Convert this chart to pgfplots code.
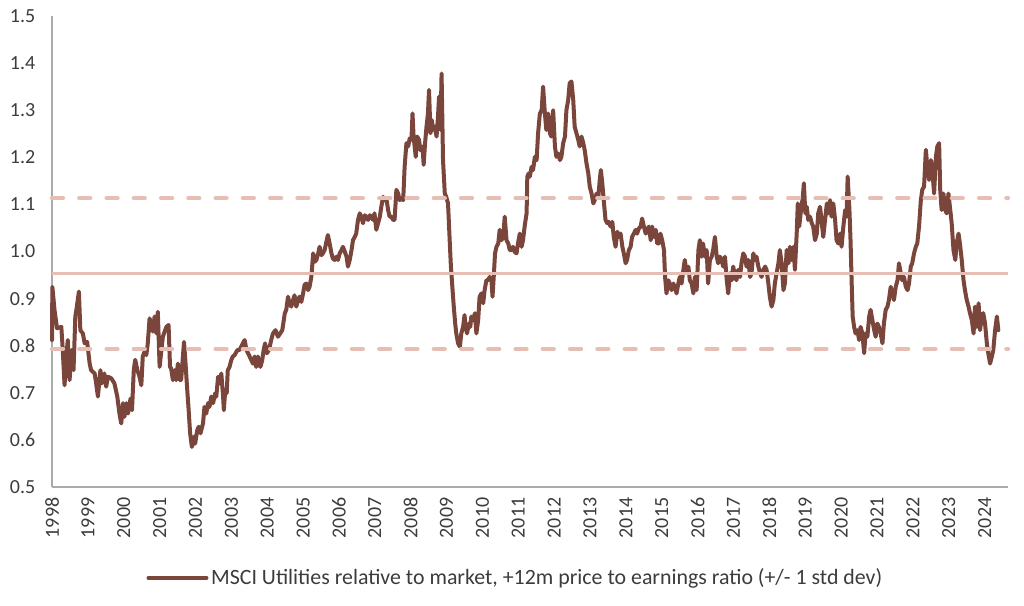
\documentclass[border=0pt]{standalone}
\usepackage{pgfplots}
\pgfplotsset{compat=1.18}
\usepackage{fontspec}
\setmainfont{Carlito}
\definecolor{brownline}{RGB}{122,69,58}
\definecolor{pinkline}{RGB}{230,190,180}
\definecolor{axisgray}{RGB}{170,170,170}
\definecolor{textgray}{RGB}{60,60,60}
\begin{document}
\begin{tikzpicture}
\useasboundingbox (-39pt,-89.25pt) rectangle (729pt,365.25pt);
\begin{axis}[
  scale only axis,
  width=717pt, height=353.25pt,
  xmin=1998, xmax=2024.65,
  ymin=0.5, ymax=1.5,
  axis x line=bottom, axis y line=left,
  axis line style={draw=axisgray, line width=0.9pt, -},
  major tick length=0pt,
  xtick={1998,1999,...,2024},
  ytick={0.5,0.6,...,1.5},
  /pgf/number format/assume math mode=true,
  x tick label style={/pgf/number format/1000 sep={}, rotate=90, anchor=east, xshift=-4.5pt, font=\fontsize{15}{17}\selectfont, text=textgray},
  y tick label style={/pgf/number format/.cd, fixed, fixed zerofill, precision=1, /tikz/.cd, xshift=-9pt, font=\fontsize{15}{17}\selectfont, text=textgray},
  legend style={at={(0.485,-0.193)}, anchor=center, draw=none, fill=none, font=\fontsize{16.4}{18}\selectfont, text=textgray},
  legend image code/.code={\draw[#1, line width=3pt] (0pt,0pt) -- (43.5pt,0pt);},
  clip=false,
]
\addplot[brownline, line width=3pt, line join=round, line cap=round] table {
1998.00 0.812
1998.01 0.925
1998.07 0.876
1998.14 0.837
1998.26 0.840
1998.30 0.791
1998.35 0.716
1998.40 0.777
1998.44 0.812
1998.49 0.727
1998.55 0.791
1998.60 0.748
1998.65 0.862
1998.68 0.876
1998.75 0.915
1998.79 0.833
1998.86 0.826
1998.91 0.805
1998.98 0.808
1999.05 0.762
1999.09 0.748
1999.19 0.741
1999.23 0.720
1999.28 0.692
1999.35 0.748
1999.39 0.720
1999.46 0.741
1999.51 0.713
1999.56 0.734
1999.65 0.731
1999.74 0.720
1999.82 0.692
1999.88 0.656
1999.93 0.635
1999.98 0.678
2000.02 0.649
2000.07 0.678
2000.12 0.656
2000.19 0.688
2000.23 0.663
2000.28 0.748
2000.32 0.770
2000.38 0.748
2000.44 0.734
2000.49 0.716
2000.53 0.777
2000.58 0.787
2000.63 0.780
2000.67 0.805
2000.72 0.858
2000.77 0.847
2000.81 0.830
2000.86 0.862
2000.91 0.826
2000.95 0.872
2001.00 0.755
2001.05 0.791
2001.09 0.819
2001.14 0.830
2001.19 0.840
2001.25 0.844
2001.29 0.755
2001.32 0.752
2001.37 0.727
2001.42 0.748
2001.46 0.727
2001.51 0.762
2001.56 0.727
2001.60 0.727
2001.68 0.808
2001.71 0.777
2001.77 0.706
2001.81 0.663
2001.85 0.614
2001.90 0.585
2001.96 0.607
2001.99 0.592
2002.05 0.621
2002.09 0.628
2002.14 0.614
2002.21 0.635
2002.25 0.670
2002.30 0.656
2002.35 0.678
2002.39 0.670
2002.44 0.692
2002.49 0.678
2002.55 0.699
2002.58 0.692
2002.63 0.734
2002.67 0.720
2002.72 0.741
2002.77 0.692
2002.79 0.663
2002.83 0.706
2002.87 0.699
2002.90 0.748
2002.95 0.755
2003.00 0.770
2003.04 0.777
2003.09 0.780
2003.17 0.791
2003.23 0.791
2003.32 0.805
2003.37 0.812
2003.42 0.791
2003.51 0.777
2003.60 0.762
2003.65 0.777
2003.69 0.755
2003.74 0.777
2003.81 0.755
2003.86 0.769
2003.90 0.791
2003.94 0.805
2003.99 0.784
2004.05 0.791
2004.11 0.812
2004.16 0.826
2004.23 0.833
2004.30 0.819
2004.36 0.826
2004.42 0.833
2004.49 0.869
2004.53 0.876
2004.58 0.904
2004.62 0.890
2004.67 0.883
2004.72 0.897
2004.76 0.907
2004.81 0.883
2004.86 0.897
2004.90 0.904
2004.95 0.893
2005.00 0.911
2005.04 0.929
2005.09 0.932
2005.14 0.918
2005.18 0.925
2005.23 0.946
2005.28 0.996
2005.32 0.978
2005.37 0.982
2005.42 0.996
2005.46 1.010
2005.51 0.992
2005.55 0.996
2005.60 1.003
2005.65 1.021
2005.69 1.035
2005.74 1.017
2005.79 0.996
2005.83 0.985
2005.88 0.982
2005.93 0.989
2005.97 0.982
2006.02 0.996
2006.07 1.003
2006.11 1.010
2006.16 1.000
2006.21 0.989
2006.25 0.968
2006.30 0.982
2006.35 1.003
2006.39 1.024
2006.44 1.031
2006.48 1.038
2006.53 1.067
2006.58 1.081
2006.62 1.074
2006.67 1.060
2006.72 1.077
2006.76 1.074
2006.81 1.067
2006.86 1.077
2006.90 1.074
2006.95 1.067
2006.99 1.081
2007.04 1.046
2007.09 1.060
2007.14 1.074
2007.18 1.095
2007.23 1.116
2007.27 1.109
2007.32 1.113
2007.37 1.088
2007.41 1.074
2007.46 1.074
2007.51 1.067
2007.55 1.067
2007.60 1.131
2007.65 1.123
2007.69 1.109
2007.74 1.113
2007.79 1.109
2007.83 1.180
2007.88 1.230
2007.93 1.223
2007.97 1.240
2008.02 1.237
2008.05 1.293
2008.08 1.244
2008.14 1.201
2008.18 1.244
2008.23 1.237
2008.27 1.215
2008.33 1.223
2008.36 1.184
2008.40 1.230
2008.44 1.265
2008.48 1.293
2008.51 1.343
2008.55 1.251
2008.59 1.279
2008.62 1.258
2008.67 1.265
2008.72 1.244
2008.76 1.286
2008.79 1.329
2008.83 1.258
2008.86 1.378
2008.90 1.194
2008.95 1.123
2008.99 1.116
2009.04 1.102
2009.09 1.017
2009.12 0.968
2009.16 0.925
2009.20 0.883
2009.24 0.847
2009.27 0.826
2009.32 0.805
2009.37 0.798
2009.41 0.826
2009.46 0.840
2009.50 0.865
2009.53 0.840
2009.57 0.826
2009.62 0.847
2009.66 0.840
2009.69 0.862
2009.74 0.854
2009.79 0.869
2009.83 0.826
2009.88 0.854
2009.92 0.904
2009.97 0.911
2010.02 0.890
2010.06 0.918
2010.11 0.939
2010.16 0.939
2010.20 0.946
2010.25 0.939
2010.28 0.904
2010.32 0.954
2010.35 0.996
2010.39 1.010
2010.44 1.017
2010.48 1.046
2010.53 1.024
2010.58 1.031
2010.62 1.074
2010.67 1.024
2010.72 1.017
2010.76 1.003
2010.81 1.003
2010.85 1.010
2010.90 0.999
2010.95 0.996
2010.99 1.017
2011.04 1.038
2011.09 1.010
2011.13 1.024
2011.18 1.056
2011.23 1.081
2011.25 1.159
2011.29 1.166
2011.32 1.159
2011.37 1.180
2011.41 1.173
2011.46 1.201
2011.51 1.194
2011.55 1.251
2011.60 1.293
2011.65 1.300
2011.69 1.350
2011.74 1.293
2011.78 1.258
2011.83 1.293
2011.88 1.251
2011.92 1.244
2011.97 1.300
2012.02 1.223
2012.06 1.201
2012.11 1.208
2012.16 1.194
2012.20 1.201
2012.25 1.230
2012.30 1.244
2012.34 1.300
2012.39 1.322
2012.43 1.357
2012.48 1.361
2012.53 1.322
2012.57 1.265
2012.62 1.251
2012.67 1.237
2012.71 1.223
2012.76 1.244
2012.81 1.230
2012.85 1.215
2012.90 1.187
2012.95 1.166
2012.99 1.138
2013.04 1.123
2013.09 1.102
2013.13 1.109
2013.18 1.123
2013.23 1.116
2013.27 1.152
2013.30 1.173
2013.34 1.145
2013.38 1.109
2013.43 1.067
2013.48 1.060
2013.52 1.063
2013.57 1.053
2013.62 1.063
2013.66 1.031
2013.71 1.010
2013.76 1.042
2013.80 1.031
2013.85 1.038
2013.90 1.010
2013.94 0.996
2013.99 0.975
2014.03 0.982
2014.08 1.003
2014.13 1.010
2014.17 1.031
2014.22 1.038
2014.27 1.046
2014.31 1.038
2014.36 1.049
2014.41 1.053
2014.45 1.070
2014.50 1.053
2014.55 1.038
2014.59 1.046
2014.64 1.053
2014.69 1.024
2014.73 1.053
2014.78 1.031
2014.83 1.046
2014.87 1.017
2014.92 1.017
2014.96 1.038
2015.01 1.024
2015.06 1.003
2015.09 0.946
2015.13 0.911
2015.18 0.939
2015.22 0.932
2015.27 0.918
2015.32 0.932
2015.36 0.925
2015.41 0.911
2015.46 0.932
2015.50 0.946
2015.55 0.932
2015.60 0.961
2015.64 0.982
2015.69 0.954
2015.74 0.968
2015.78 0.939
2015.83 0.932
2015.88 0.911
2015.92 0.946
2015.97 0.918
2016.02 1.003
2016.06 1.024
2016.11 0.989
2016.15 1.017
2016.20 0.989
2016.25 1.003
2016.29 0.932
2016.34 0.982
2016.39 0.989
2016.43 1.003
2016.48 1.031
2016.53 0.989
2016.57 0.975
2016.62 0.989
2016.67 0.982
2016.71 0.968
2016.76 0.989
2016.81 0.939
2016.85 0.911
2016.90 0.954
2016.95 0.939
2016.99 0.968
2017.04 0.946
2017.08 0.939
2017.13 0.961
2017.18 0.946
2017.22 0.975
2017.27 0.996
2017.32 0.989
2017.36 0.968
2017.41 0.982
2017.46 0.946
2017.50 0.954
2017.55 0.996
2017.60 0.982
2017.64 0.989
2017.69 0.968
2017.74 0.954
2017.78 0.946
2017.83 0.961
2017.88 0.968
2017.92 0.961
2017.97 0.932
2018.01 0.904
2018.06 0.883
2018.11 0.897
2018.15 0.932
2018.20 0.954
2018.25 0.975
2018.29 1.003
2018.34 0.975
2018.39 0.918
2018.43 0.932
2018.48 1.003
2018.53 0.975
2018.57 1.010
2018.62 0.982
2018.67 1.010
2018.71 0.961
2018.76 1.039
2018.79 1.102
2018.83 1.053
2018.88 1.088
2018.93 1.116
2018.96 1.145
2019.00 1.081
2019.04 1.095
2019.08 1.067
2019.13 1.074
2019.18 1.060
2019.22 1.053
2019.27 1.024
2019.32 1.038
2019.36 1.081
2019.41 1.095
2019.46 1.060
2019.50 1.031
2019.55 1.067
2019.60 1.102
2019.64 1.081
2019.69 1.109
2019.73 1.074
2019.78 1.102
2019.83 1.067
2019.87 1.024
2019.92 1.017
2019.97 1.038
2020.01 1.010
2020.06 1.053
2020.11 1.088
2020.15 1.074
2020.18 1.159
2020.23 1.088
2020.26 1.024
2020.29 0.939
2020.32 0.862
2020.36 0.840
2020.40 0.826
2020.45 0.833
2020.50 0.812
2020.54 0.840
2020.59 0.826
2020.64 0.784
2020.68 0.826
2020.73 0.819
2020.78 0.862
2020.82 0.876
2020.87 0.854
2020.92 0.833
2020.96 0.819
2021.01 0.847
2021.05 0.840
2021.10 0.826
2021.15 0.805
2021.19 0.847
2021.24 0.876
2021.29 0.883
2021.33 0.897
2021.38 0.925
2021.43 0.911
2021.47 0.897
2021.52 0.925
2021.57 0.939
2021.61 0.975
2021.66 0.954
2021.70 0.939
2021.75 0.946
2021.80 0.925
2021.85 0.918
2021.89 0.932
2021.94 0.968
2021.98 0.975
2022.03 0.996
2022.08 1.010
2022.12 1.017
2022.17 1.053
2022.22 1.109
2022.26 1.131
2022.31 1.138
2022.36 1.216
2022.40 1.180
2022.45 1.152
2022.50 1.194
2022.54 1.173
2022.59 1.123
2022.64 1.201
2022.68 1.223
2022.73 1.230
2022.76 1.131
2022.80 1.088
2022.85 1.123
2022.90 1.088
2022.94 1.081
2022.99 1.123
2023.04 1.088
2023.08 1.060
2023.13 1.003
2023.18 0.982
2023.22 1.017
2023.27 1.038
2023.31 1.017
2023.36 0.982
2023.41 0.939
2023.45 0.918
2023.50 0.897
2023.55 0.883
2023.59 0.869
2023.64 0.855
2023.69 0.826
2023.73 0.883
2023.78 0.840
2023.83 0.890
2023.87 0.833
2023.92 0.862
2023.96 0.869
2024.01 0.847
2024.06 0.805
2024.10 0.784
2024.15 0.762
2024.20 0.777
2024.24 0.791
2024.29 0.833
2024.34 0.862
2024.38 0.833
};
\addlegendentry{MSCI Utilities relative to market, +12m price to earnings ratio (+/- 1 std dev)}
\addplot[forget plot, pinkline, line width=2.3pt] coordinates {(1998,0.953) (2024.65,0.953)};
\addplot[forget plot, pinkline, line width=3.2pt, line cap=round, dash pattern=on 8.25pt off 12.2pt] coordinates {(1998,1.113) (2024.65,1.113)};
\addplot[forget plot, pinkline, line width=3.2pt, line cap=round, dash pattern=on 8.25pt off 12.2pt] coordinates {(1998,0.793) (2024.65,0.793)};
\end{axis}
\end{tikzpicture}
\end{document}
